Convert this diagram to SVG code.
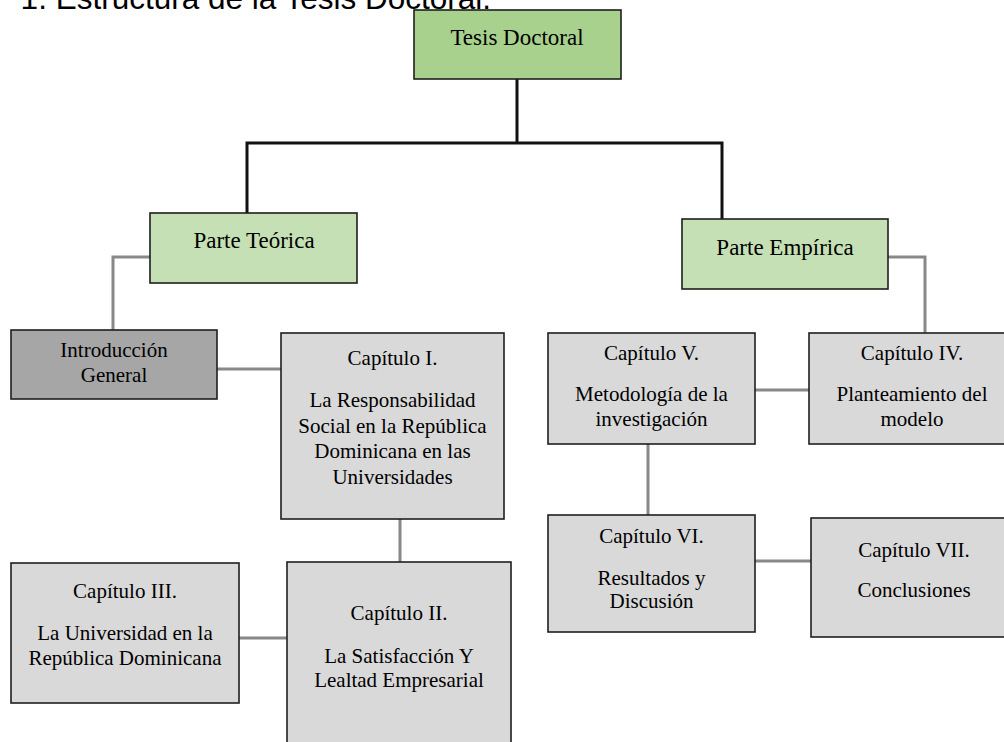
<svg xmlns="http://www.w3.org/2000/svg" width="1004" height="742" viewBox="0 0 1004 742">
<style>
.box{stroke:#1e1e1e;stroke-width:1.6}
.top{fill:#a9d18e}
.part{fill:#c5e0b4}
.ch{fill:#d9d9d9}
.intro{fill:#a6a6a6}
.t{font-family:"Liberation Serif","Times New Roman",serif;font-size:21px;fill:#000;text-anchor:middle}
.tg{font-family:"Liberation Serif","Times New Roman",serif;font-size:23px;fill:#000;text-anchor:middle}
.blk{fill:none;stroke:#111;stroke-width:3}
.gry{fill:none;stroke:#888;stroke-width:3}
.title{font-family:"Liberation Sans",Arial,sans-serif;font-size:31.5px;fill:#000}
</style>
<rect width="1004" height="742" fill="#fff"/>
<text class="title" x="491" y="9" text-anchor="end">1. Estructura de la Tesis Doctoral.</text>
<g id="connectors">
<path class="blk" d="M517,79 V143"/>
<path class="blk" d="M247,213 V143 H722 V219"/>
<path class="gry" d="M150,257 H113 V330"/>
<path class="gry" d="M217,369 H281"/>
<path class="gry" d="M400,519 V562"/>
<path class="gry" d="M239,638 H287"/>
<path class="gry" d="M888,257 H925 V333"/>
<path class="gry" d="M755,390 H809"/>
<path class="gry" d="M648,444 V515"/>
<path class="gry" d="M755,561 H811"/>
</g>
<g id="tesis">
<rect class="box top" x="414" y="10" width="207" height="69"/>
<text class="tg" x="517" y="45">Tesis Doctoral</text>
</g>
<g id="parte-teorica">
<rect class="box part" x="150" y="213" width="207" height="70"/>
<text class="tg" x="254" y="248">Parte Teórica</text>
</g>
<g id="parte-empirica">
<rect class="box part" x="682" y="219" width="206" height="70"/>
<text class="tg" x="785" y="255">Parte Empírica</text>
</g>
<g id="introduccion">
<rect class="box intro" x="11" y="330" width="206" height="69"/>
<text class="t" x="114" y="357">Introducción</text>
<text class="t" x="114" y="382">General</text>
</g>
<g id="cap1">
<rect class="box ch" x="281" y="333" width="223" height="186"/>
<text class="t" x="392.5" y="365">Capítulo I.</text>
<text class="t" x="392.5" y="407">La Responsabilidad</text>
<text class="t" x="392.5" y="433">Social en la República</text>
<text class="t" x="392.5" y="458">Dominicana en las</text>
<text class="t" x="392.5" y="484">Universidades</text>
</g>
<g id="cap2">
<rect class="box ch" x="287" y="562" width="224" height="200"/>
<text class="t" x="399" y="620">Capítulo II.</text>
<text class="t" x="399" y="663">La Satisfacción Y</text>
<text class="t" x="399" y="687">Lealtad Empresarial</text>
</g>
<g id="cap3">
<rect class="box ch" x="11" y="563" width="228" height="140"/>
<text class="t" x="125" y="598">Capítulo III.</text>
<text class="t" x="125" y="640">La Universidad en la</text>
<text class="t" x="125" y="665">República Dominicana</text>
</g>
<g id="cap5">
<rect class="box ch" x="548" y="333" width="207" height="111"/>
<text class="t" x="651.5" y="360">Capítulo V.</text>
<text class="t" x="651.5" y="401">Metodología de la</text>
<text class="t" x="651.5" y="426">investigación</text>
</g>
<g id="cap4">
<rect class="box ch" x="809" y="333" width="206" height="111"/>
<text class="t" x="912" y="360">Capítulo IV.</text>
<text class="t" x="912" y="401">Planteamiento del</text>
<text class="t" x="912" y="426">modelo</text>
</g>
<g id="cap6">
<rect class="box ch" x="548" y="515" width="207" height="117"/>
<text class="t" x="651.5" y="543">Capítulo VI.</text>
<text class="t" x="651.5" y="585">Resultados y</text>
<text class="t" x="651.5" y="608">Discusión</text>
</g>
<g id="cap7">
<rect class="box ch" x="811" y="518" width="206" height="119"/>
<text class="t" x="914" y="557">Capítulo VII.</text>
<text class="t" x="914" y="597">Conclusiones</text>
</g>
</svg>
